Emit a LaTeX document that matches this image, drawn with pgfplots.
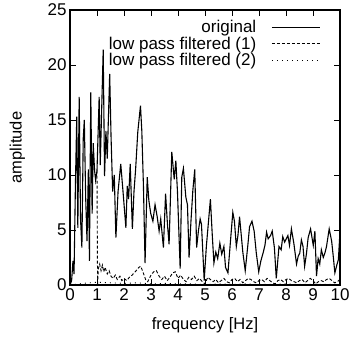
\documentclass[border=0pt]{standalone}
\usepackage{fontspec}
\setmainfont{Liberation Sans}
\usepackage{pgfplots}
\usepackage{pgfplotstable}
\pgfplotsset{compat=1.18}

\pgfplotstableread{
f a
0.00 0.0
0.06 0.4
0.11 2.2
0.15 1.0
0.20 9.0
0.25 15.3
0.29 5.2
0.34 17.1
0.39 6.0
0.44 3.4
0.49 13.3
0.53 15.0
0.58 8.0
0.63 4.0
0.68 10.5
0.72 2.2
0.77 17.5
0.82 6.5
0.86 12.9
0.91 10.4
0.95 9.5
1.00 10.4
1.08 17.1
1.12 10.9
1.16 14.7
1.23 21.4
1.28 9.9
1.33 14.0
1.38 11.5
1.47 19.2
1.52 13.5
1.58 8.5
1.64 10.0
1.70 4.3
1.78 8.5
1.88 11.0
1.96 8.6
2.07 5.2
2.12 9.0
2.17 7.8
2.23 11.0
2.31 5.1
2.37 8.5
2.43 10.5
2.51 13.9
2.61 16.3
2.66 14.0
2.72 9.0
2.78 2.0
2.86 9.8
2.92 7.7
2.99 6.5
3.07 5.8
3.15 7.3
3.23 6.2
3.30 4.9
3.36 6.0
3.46 3.4
3.54 8.3
3.61 5.5
3.67 3.7
3.77 12.1
3.86 9.6
3.92 11.3
3.98 8.5
4.08 1.5
4.14 9.8
4.20 10.6
4.29 8.0
4.35 7.3
4.41 2.5
4.48 5.8
4.55 8.6
4.62 10.5
4.69 3.4
4.76 5.0
4.82 6.0
4.87 5.5
4.97 0.4
5.05 3.5
5.20 7.8
5.27 4.5
5.33 2.0
5.40 3.0
5.47 2.4
5.55 3.8
5.62 2.8
5.70 3.5
5.76 1.6
5.85 1.1
5.96 4.5
6.03 6.6
6.09 5.8
6.16 3.5
6.22 4.5
6.28 6.2
6.40 3.0
6.49 1.3
6.59 3.7
6.65 5.3
6.74 5.8
6.82 4.9
6.90 2.9
6.99 1.2
7.07 2.2
7.15 2.9
7.22 3.6
7.28 4.8
7.34 4.2
7.43 4.5
7.49 4.9
7.57 3.4
7.64 0.6
7.74 3.5
7.82 3.2
7.88 4.4
7.95 3.9
8.07 4.5
8.13 3.6
8.20 5.1
8.29 3.8
8.39 1.9
8.45 2.6
8.51 2.9
8.57 4.1
8.63 3.5
8.69 1.7
8.76 2.9
8.82 4.3
8.91 5.1
9.01 3.6
9.07 4.9
9.13 0.8
9.19 2.4
9.25 1.9
9.31 3.2
9.38 2.5
9.44 2.9
9.50 3.5
9.60 5.1
9.69 4.0
9.75 2.6
9.81 1.1
9.88 1.8
9.94 2.3
10.00 4.9
}\original

\pgfplotstableread{
f a
1.00 10.4
1.02 0.0
1.05 1.5
1.10 1.9
1.15 1.3
1.20 1.8
1.25 1.2
1.30 1.6
1.38 1.0
1.45 1.3
1.52 0.8
1.60 0.6
1.68 0.9
1.75 0.5
1.85 0.8
1.92 0.4
2.00 0.6
2.10 0.4
2.20 0.7
2.30 0.9
2.45 1.3
2.55 1.6
2.62 1.7
2.70 1.2
2.80 0.5
2.88 0.3
3.00 0.9
3.10 1.2
3.20 1.3
3.30 0.8
3.40 0.5
3.50 0.8
3.60 0.4
3.70 0.7
3.80 1.1
3.90 1.2
4.00 0.6
4.10 0.9
4.20 0.5
4.30 0.3
4.40 0.7
4.50 0.5
4.60 0.8
4.70 0.4
4.80 0.6
4.90 0.3
5.00 0.1
5.10 0.7
5.20 0.5
5.30 0.3
5.40 0.5
5.50 0.2
5.60 0.4
5.70 0.6
5.80 0.3
5.90 0.2
6.00 0.5
6.10 0.6
6.20 0.3
6.30 0.5
6.40 0.2
6.50 0.4
6.60 0.6
6.70 0.5
6.80 0.3
6.90 0.2
7.00 0.4
7.10 0.5
7.20 0.3
7.30 0.6
7.40 0.4
7.50 0.2
7.60 0.1
7.70 0.4
7.80 0.5
7.90 0.3
8.00 0.5
8.10 0.6
8.20 0.4
8.30 0.3
8.40 0.2
8.50 0.4
8.60 0.5
8.70 0.2
8.80 0.4
8.90 0.6
9.00 0.4
9.10 0.1
9.20 0.3
9.30 0.4
9.40 0.3
9.50 0.5
9.60 0.6
9.70 0.4
9.80 0.2
9.90 0.3
10.00 0.5
}\filterone

\pgfplotstableread{
f a
0.00 0.0
0.50 0.15
1.00 0.25
1.50 0.2
2.00 0.15
2.50 0.2
3.00 0.1
3.50 0.15
4.00 0.1
4.50 0.1
5.00 0.05
5.50 0.1
6.00 0.05
6.50 0.1
7.00 0.05
7.50 0.05
8.00 0.1
8.50 0.05
9.00 0.05
9.50 0.05
10.00 0.05
}\filtertwo

\begin{document}
\begin{tikzpicture}
\begin{axis}[
  scale only axis, width=270pt, height=275pt,
  xmin=0, xmax=10, ymin=0, ymax=25,
  xtick={0,1,2,3,4,5,6,7,8,9,10}, ytick={0,5,10,15,20,25},
  tick pos=both, tick align=inside, major tick length=6pt,
  axis line style={line width=1.2pt},
  every tick/.style={black, line width=0.8pt},
  /pgf/number format/assume math mode=true,
  tick label style={font=\fontsize{17}{20}\selectfont},
  label style={font=\fontsize{16.5}{19}\selectfont},
  xlabel={frequency [Hz]}, ylabel={amplitude},
  xlabel style={at={(axis description cs:0.5,-0.145)}, anchor=center},
  ylabel style={at={(axis description cs:-0.195,0.5)}, anchor=center},
  legend style={draw=none, fill=none, inner sep=0pt, at={(rel axis cs:0.928,0.97)}, anchor=north east,
    font=\fontsize{17}{20}\selectfont, row sep=-1.5pt, column sep=13pt},
  legend cell align=right,
  legend plot pos=right,
  legend image code/.code={\draw[#1] (0pt,0pt) -- (48pt,0pt);},
]
\addplot[black, line width=1.1pt] table[x=f, y=a] {\original};
\addlegendentry{original}
\addplot[black, line width=0.9pt, dash pattern=on 3pt off 2pt] table[x=f, y=a] {\filterone};
\addlegendentry{low pass filtered (1)}
\addplot[black, line width=0.9pt, dash pattern=on 1pt off 4pt] table[x=f, y=a] {\filtertwo};
\addlegendentry{low pass filtered (2)}
\end{axis}
\path ([xshift=-70pt,yshift=-59pt]current axis.south west) rectangle ([xshift=13pt,yshift=10pt]current axis.north east);
\end{tikzpicture}
\end{document}
